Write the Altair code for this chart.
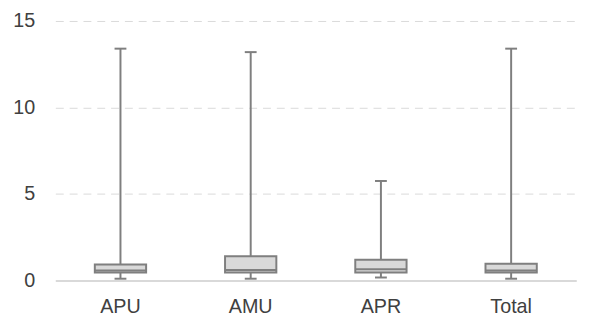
import altair as alt
import pandas as pd

categories = ["APU", "AMU", "APR", "Total"]
mins = [0.10, 0.10, 0.17, 0.10]
q1 = [0.46, 0.46, 0.46, 0.46]
medians = [0.58, 0.60, 0.65, 0.58]
q3 = [0.92, 1.40, 1.20, 0.97]
maxs = [13.4, 13.2, 5.75, 13.4]

df = pd.DataFrame({"cat": categories, "min": mins, "q1": q1, "median": medians, "q3": q3, "max": maxs})

FONT = "Liberation Sans Narrow, Liberation Sans, Arial, sans-serif"
GRAY = "#7f7f7f"

x = alt.X("cat:N", sort=categories, title=None,
          scale=alt.Scale(paddingInner=0, paddingOuter=0),
          axis=alt.Axis(labelAngle=0, ticks=False, domainColor="#d9d9d9", domainWidth=2,
                        labelFont=FONT, labelFontSize=20, labelColor="#404040", labelPadding=16))
yscale = alt.Scale(domain=[0, 15], nice=False)
yaxis = alt.Axis(values=[0, 5, 10, 15], domain=False, ticks=False, gridColor="#d9d9d9",
                 gridDash=[8, 6], gridWidth=1, labelFont=FONT, labelFontSize=20,
                 labelColor="#404040", labelPadding=21)

base = alt.Chart(df)
whisker = base.mark_rule(color=GRAY, strokeWidth=2).encode(
    x=x, y=alt.Y("min:Q", scale=yscale, axis=yaxis, title=None), y2="max:Q")
box = base.mark_bar(size=52, fill="#d9d9d9", stroke=GRAY, strokeWidth=2).encode(
    x=x, y=alt.Y("q1:Q", scale=yscale, axis=yaxis, title=None), y2="q3:Q")
med = base.mark_tick(size=52, thickness=2, color=GRAY, opacity=1).encode(
    x=x, y=alt.Y("median:Q", scale=yscale, axis=yaxis, title=None))
capmin = base.mark_tick(size=12, thickness=2, color=GRAY, opacity=1).encode(
    x=x, y=alt.Y("min:Q", scale=yscale, axis=yaxis, title=None))
capmax = base.mark_tick(size=12, thickness=2, color=GRAY, opacity=1).encode(
    x=x, y=alt.Y("max:Q", scale=yscale, axis=yaxis, title=None))

chart = alt.layer(whisker, box, med, capmin, capmax).properties(
    width=528, height=263,
    autosize=alt.AutoSizeParams(type="none"),
    padding={"left": 48, "top": 11, "right": 19, "bottom": 42},
).configure_view(stroke=None)

chart.save("out.html", embed_options={"renderer": "svg", "actions": False})
